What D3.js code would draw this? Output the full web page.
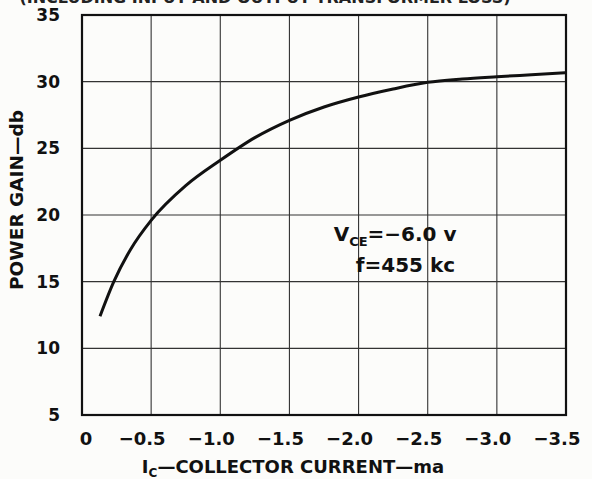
<!DOCTYPE html>
<html>
<head>
<meta charset="utf-8">
<script src="https://cdn.jsdelivr.net/npm/d3@7"></script>
<style>
  html, body { margin: 0; padding: 0; background: #fcfcfa; }
  svg { display: block; font-family: "DejaVu Sans", sans-serif; font-weight: bold; }
</style>
</head>
<body>
<svg id="chart" width="592" height="479"></svg>
<script>
// Power gain vs collector current
const current = [-0.13, -0.23, -0.35, -0.5, -0.75, -1.0, -1.25, -1.5, -1.75, -2.0, -2.25, -2.5, -2.75, -3.0, -3.25, -3.5];
const gain = [12.4, 15.0, 17.4, 19.6, 22.2, 24.1, 25.8, 27.1, 28.1, 28.85, 29.45, 29.95, 30.2, 30.37, 30.52, 30.67];

const xTicks = [0, -0.5, -1.0, -1.5, -2.0, -2.5, -3.0, -3.5];
const xTickLabels = ["0", "\u22120.5", "\u22121.0", "\u22121.5", "\u22122.0", "\u22122.5", "\u22123.0", "\u22123.5"];
const yTicks = [5, 10, 15, 20, 25, 30, 35];

const svg = d3.select("#chart");
const margin = { top: 15, right: 26, bottom: 64, left: 82 };
const width = 592, height = 479;
const innerWidth = width - margin.left - margin.right;
const innerHeight = height - margin.top - margin.bottom;

const x = d3.scaleLinear().domain([0, -3.5]).range([0, innerWidth]);
const y = d3.scaleLinear().domain([5, 35]).range([innerHeight, 0]);

// heading, mostly cut off at the top edge of the scan
svg.append("text")
  .attr("x", 265)
  .attr("y", 3)
  .attr("text-anchor", "middle")
  .attr("font-size", 16)
  .attr("fill", "#222")
  .text("(INCLUDING INPUT AND OUTPUT TRANSFORMER LOSS)");

const chart = svg.append("g")
  .attr("transform", `translate(${margin.left},${margin.top})`);

// grid
chart.append("g")
  .selectAll("line")
  .data(xTicks.slice(1, -1))
  .join("line")
  .attr("x1", d => x(d)).attr("x2", d => x(d))
  .attr("y1", 0).attr("y2", innerHeight)
  .attr("stroke", "#333").attr("stroke-width", 1.1);

chart.append("g")
  .selectAll("line")
  .data(yTicks.slice(1, -1))
  .join("line")
  .attr("x1", 0).attr("x2", innerWidth)
  .attr("y1", d => y(d)).attr("y2", d => y(d))
  .attr("stroke", "#333").attr("stroke-width", 1.1);

// frame
chart.append("rect")
  .attr("width", innerWidth)
  .attr("height", innerHeight)
  .attr("fill", "none")
  .attr("stroke", "#111")
  .attr("stroke-width", 2.2);

// curve
const points = current.map((c, i) => ({ c, g: gain[i] }));
chart.append("path")
  .datum(points)
  .attr("fill", "none")
  .attr("stroke", "#111")
  .attr("stroke-width", 3)
  .attr("d", d3.line().x(d => x(d.c)).y(d => y(d.g)).curve(d3.curveMonotoneX));

// y tick labels
chart.append("g")
  .selectAll("text")
  .data(yTicks)
  .join("text")
  .attr("x", -22)
  .attr("y", d => y(d))
  .attr("dy", "0.36em")
  .attr("text-anchor", "end")
  .attr("font-size", 17)
  .attr("fill", "#111")
  .text(d => d);

// x tick labels (number part sits under the grid line, dash hangs left)
chart.append("g")
  .selectAll("text")
  .data(xTicks)
  .join("text")
  .attr("x", d => x(d))
  .attr("dx", d => (d === 0 ? 4 : -9))
  .attr("y", innerHeight + 30)
  .attr("text-anchor", "middle")
  .attr("font-size", 18)
  .attr("fill", "#111")
  .text((d, i) => xTickLabels[i]);

// axis titles
const xTitle = svg.append("text")
  .attr("x", 293)
  .attr("y", 473)
  .attr("text-anchor", "middle")
  .attr("font-size", 18)
  .attr("fill", "#111");
xTitle.append("tspan").text("I");
xTitle.append("tspan").attr("dy", 4).attr("font-size", 12).text("C");
xTitle.append("tspan").attr("dy", -4).text("\u2014COLLECTOR CURRENT\u2014ma");

svg.append("text")
  .attr("transform", "translate(23,200) rotate(-90)")
  .attr("text-anchor", "middle")
  .attr("font-size", 18.5)
  .attr("fill", "#111")
  .text("POWER GAIN\u2014db");

// condition note
const note1 = chart.append("text")
  .attr("x", x(-1.82))
  .attr("y", y(18.05))
  .attr("font-size", 20)
  .attr("fill", "#111");
note1.append("tspan").text("V");
note1.append("tspan").attr("dy", 5).attr("font-size", 13).text("CE");
note1.append("tspan").attr("dy", -5).text("=\u22126.0 v");

chart.append("text")
  .attr("x", x(-1.98))
  .attr("y", y(15.72))
  .attr("font-size", 20)
  .attr("fill", "#111")
  .text("f=455 kc");
</script>
</body>
</html>
